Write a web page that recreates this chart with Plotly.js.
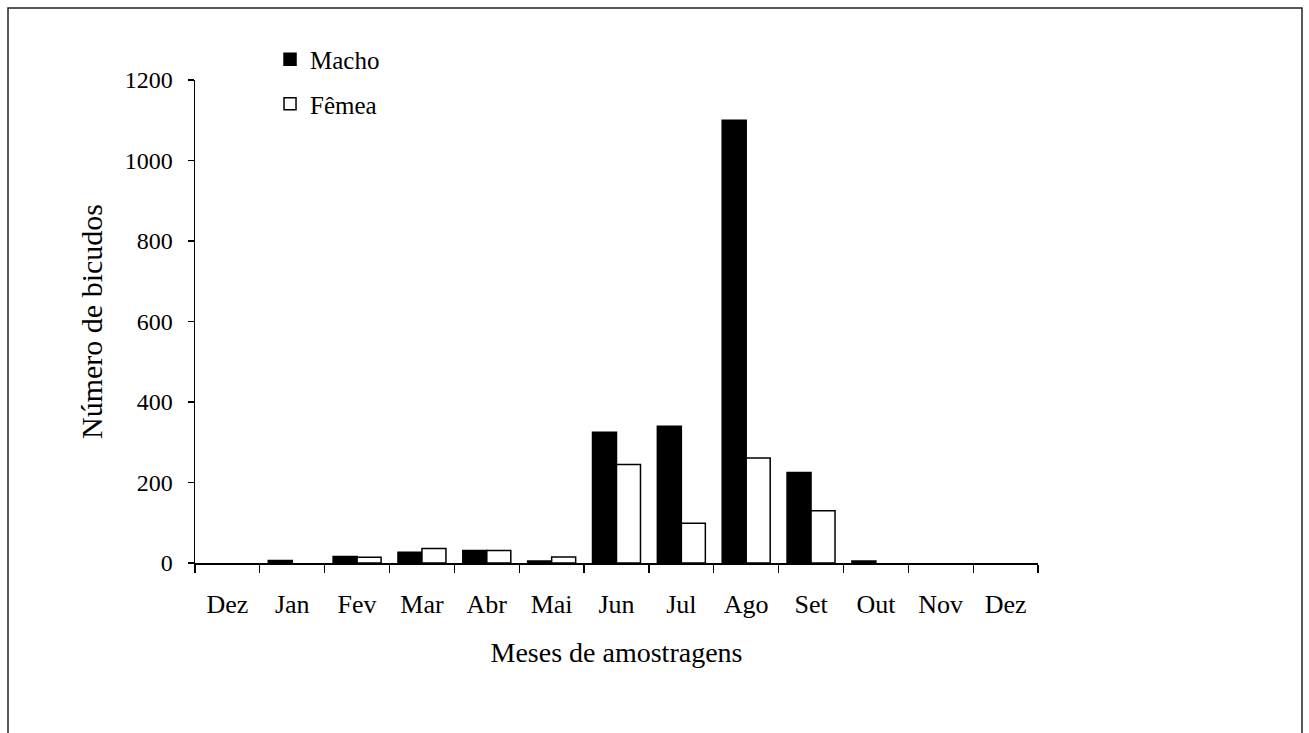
<!DOCTYPE html>
<html>
<head>
<meta charset="utf-8">
<script src="https://cdn.plot.ly/plotly-3.0.1.min.js"></script>
<style>html,body{margin:0;padding:0;background:#fff;}</style>
</head>
<body>
<div id="chart" style="width:1309px;height:733px;"></div>
<script>
const months = ["Dez","Jan","Fev","Mar","Abr","Mai","Jun","Jul","Ago","Set","Out","Nov","Dez"];
const macho = [0, 6, 16, 27, 31, 5, 325, 340, 1100, 225, 5, 0, 0];
const femea = [0, 0, 14, 36, 31, 15, 245, 99, 261, 130, 0, 0, 0];
const yTicks = [0, 200, 400, 600, 800, 1000, 1200];

const pos = months.map((m, i) => i);
const bounds = months.map((m, i) => i - 0.5).concat([months.length - 0.5]);
const FONT = "Liberation Serif, Times New Roman, serif";
// zero counts draw no bar (as in the original figure)
const shown = v => v.map(d => (d === 0 ? null : d));

const traces = [
  {type: "bar", name: "Macho", x: pos, y: shown(macho), legendgroup: "m",
   marker: {color: "#000", line: {color: "#000", width: 1.5}}},
  {type: "bar", name: "Fêmea", x: pos, y: shown(femea), legendgroup: "f",
   marker: {color: "#fff", line: {color: "#000", width: 1.5}}},
  {type: "scatter", x: [0], y: [0], xaxis: "x2", yaxis: "y", mode: "markers",
   marker: {opacity: 0}, showlegend: false, hoverinfo: "skip"}
];

const layout = {
  width: 1309, height: 733,
  margin: {l: 195, r: 271, t: 80, b: 170},
  paper_bgcolor: "#fff", plot_bgcolor: "#fff",
  font: {family: FONT, size: 26, color: "#000"},
  barmode: "group", bargap: 0.26, bargroupgap: 0,
  showlegend: true,
  legend: {x: 0.089, y: 1.09, xanchor: "left", yanchor: "top",
           font: {family: FONT, size: 25, color: "#000"},
           bgcolor: "rgba(0,0,0,0)", traceorder: "grouped", tracegroupgap: 9},
  xaxis: {range: [-0.5, months.length - 0.5], tickmode: "array", tickvals: bounds,
          showticklabels: false, ticks: "outside", ticklen: 8, tickwidth: 1.2, tickcolor: "#000",
          showline: true, linecolor: "#000", linewidth: 1.5, showgrid: false, zeroline: false,
          fixedrange: true},
  xaxis2: {overlaying: "x", anchor: "y", side: "bottom", range: [-0.5, months.length - 0.5],
           tickmode: "array", tickvals: pos, ticktext: months, ticks: "", ticklen: 0,
           showline: false, showgrid: false, zeroline: false,
           tickfont: {family: FONT, size: 26, color: "#000"}, ticklabelstandoff: 23,
           title: {text: "Meses de amostragens", font: {family: FONT, size: 28, color: "#000"}, standoff: 24}},
  yaxis: {range: [0, 1200], tickmode: "array", tickvals: yTicks, ticks: "outside", ticklen: 6,
          tickwidth: 1.2, tickcolor: "#000", showline: true, linecolor: "#000", linewidth: 1.5,
          showgrid: false, zeroline: false, ticklabelstandoff: 10,
          tickfont: {family: FONT, size: 24, color: "#000"},
          title: {text: "Número de bicudos", font: {family: FONT, size: 30, color: "#000"}, standoff: 13}},
  shapes: [{type: "rect", xref: "paper", yref: "paper",
            x0: (8 - 195) / 843, x1: (1302 - 195) / 843,
            y0: (563 - 760) / 483, y1: (563 - 8) / 483,
            line: {color: "#222", width: 1.5}, fillcolor: "rgba(0,0,0,0)", layer: "below"}]
};

Plotly.newPlot("chart", traces, layout, {displayModeBar: false, staticPlot: true});
</script>
</body>
</html>
